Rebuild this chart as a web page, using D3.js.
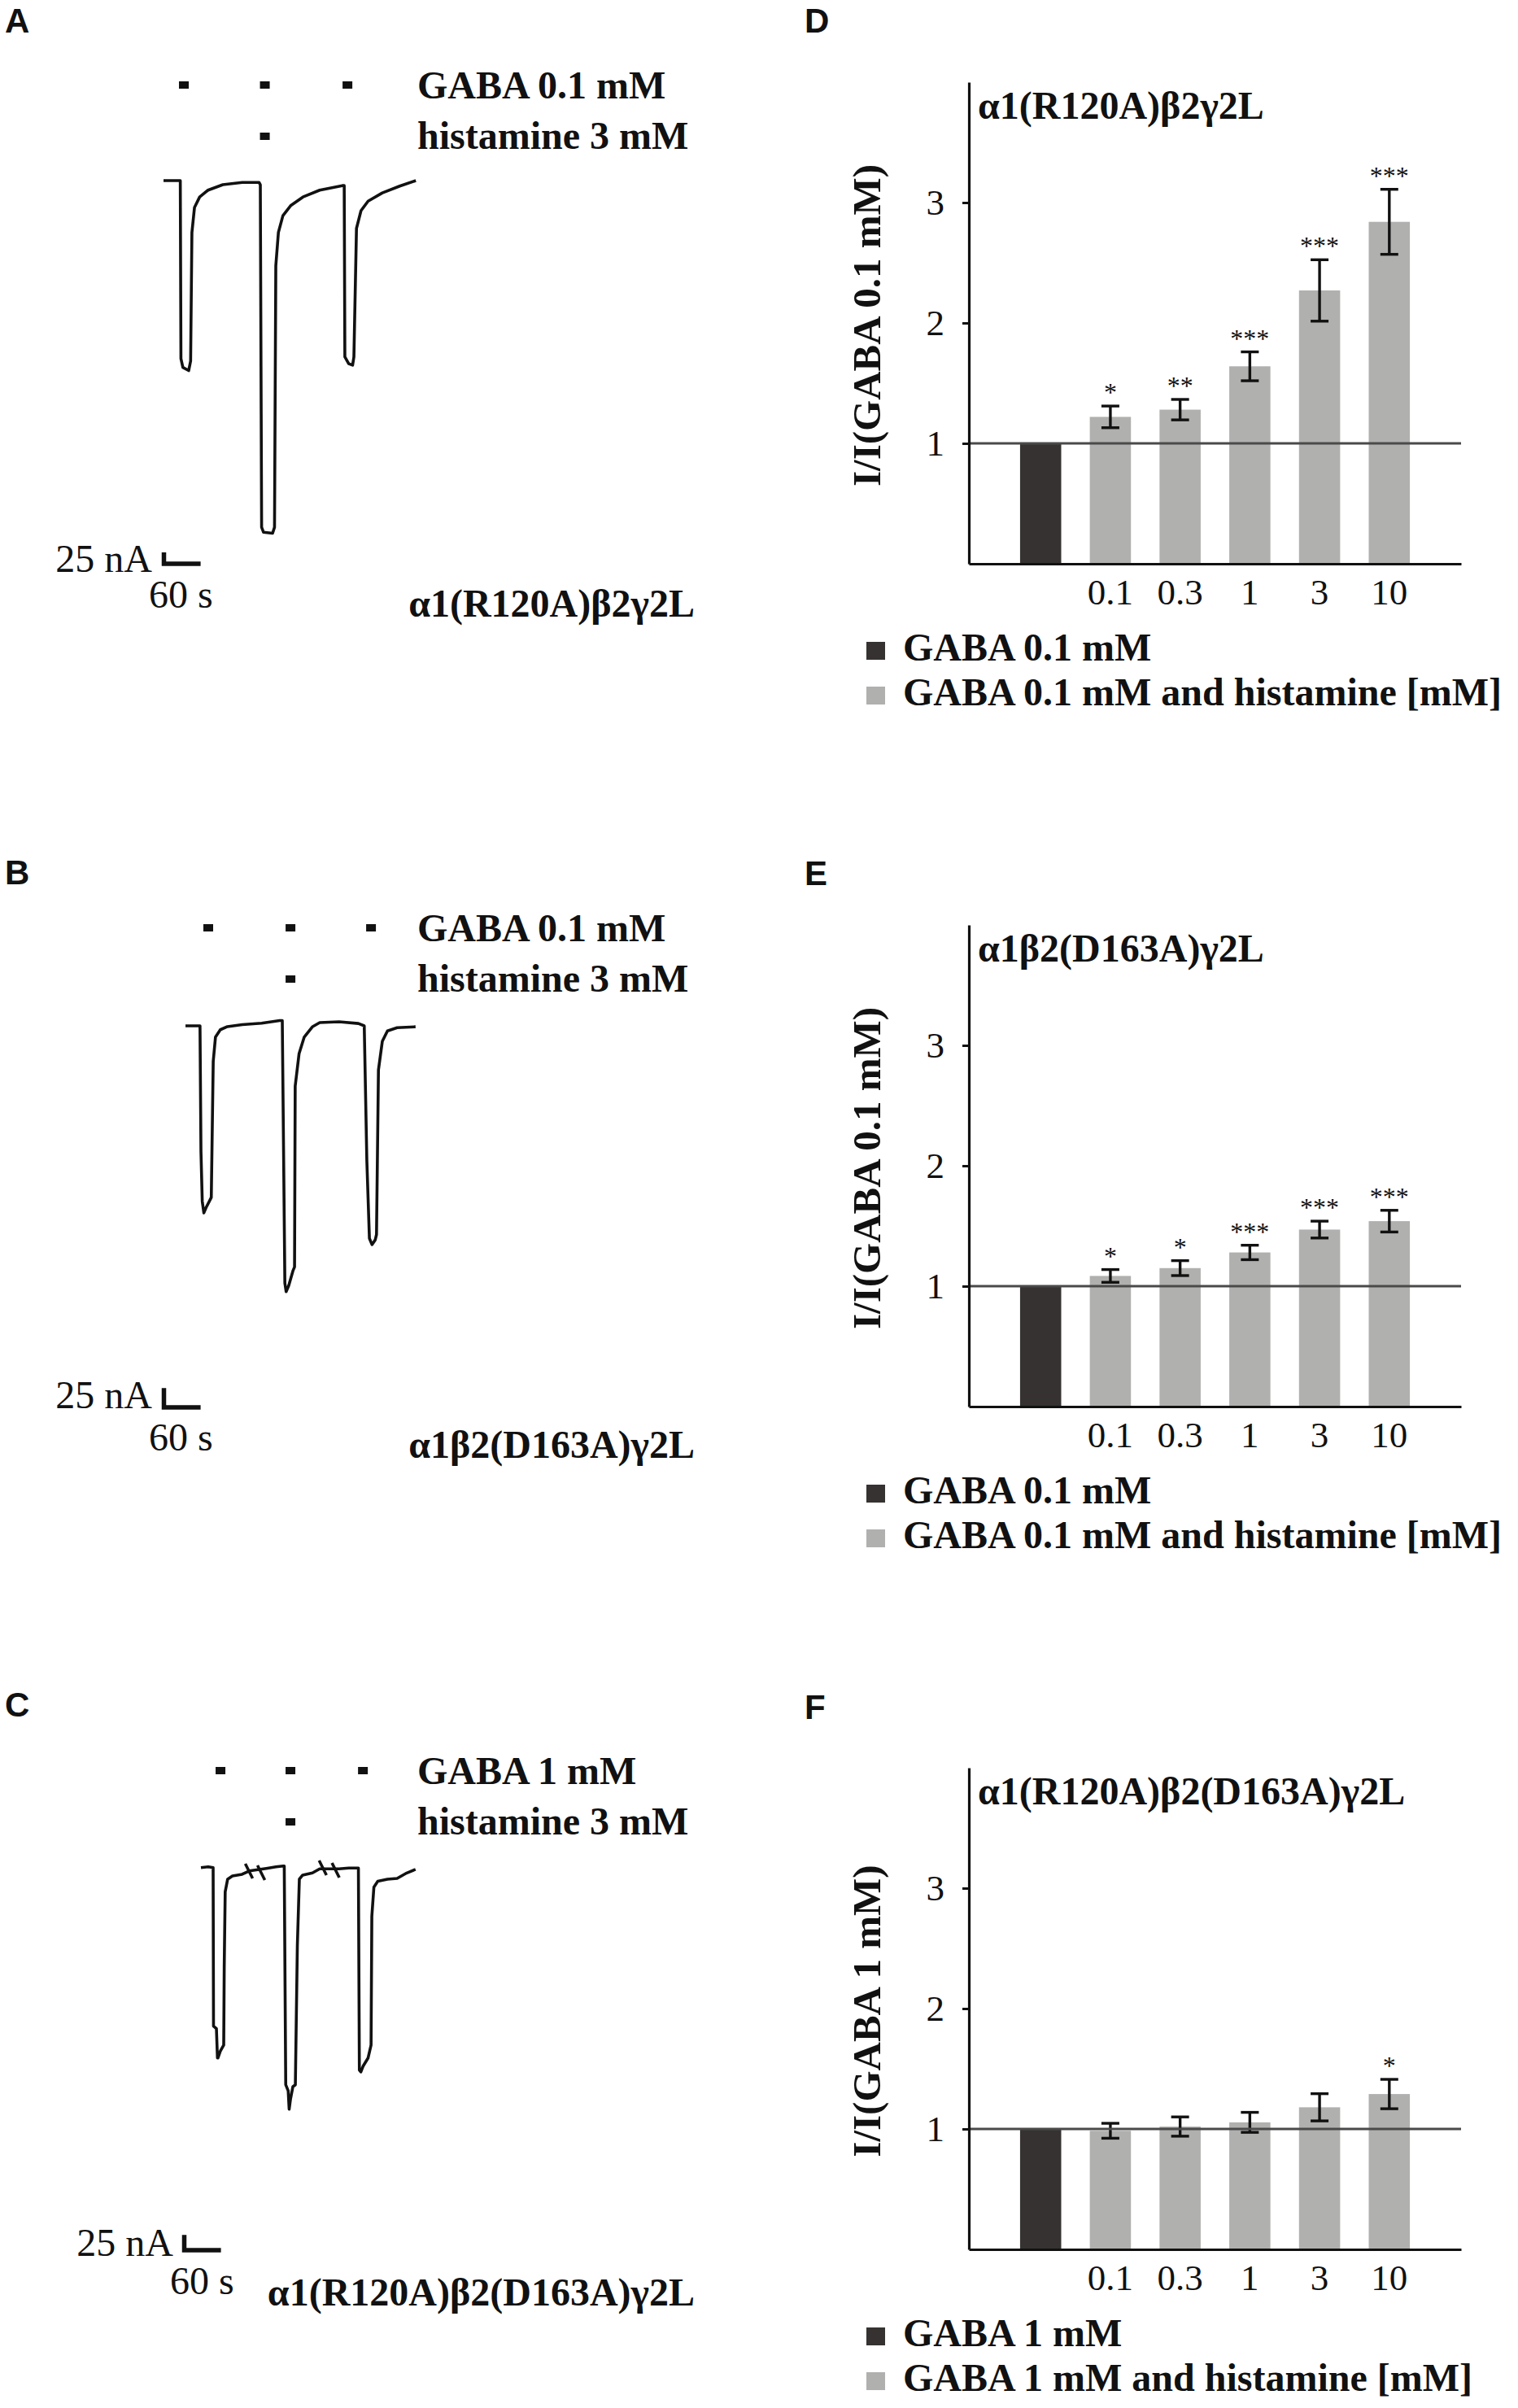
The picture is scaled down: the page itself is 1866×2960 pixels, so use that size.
<!DOCTYPE html>
<html lang="en">
<title>Histamine on mutant GABA-A receptors</title>
<meta charset="UTF-8">
<script src="https://d3js.org/d3.v7.min.js"></script>
<style>
body {margin:0; background:#fff}
svg text {font-family: "Liberation Serif", "Times New Roman", serif; fill:#111}
.letter {font-family: "Liberation Sans", Arial, sans-serif !important; font-weight:bold; font-size:42px}
.bold {font-weight:bold; font-size:48px}
.tick text {font-size:45px}
</style>
<body>
<svg id="fig" width="1866" height="2960"></svg>
<script>
// ---- data ----
const concLabels = ["0.1", "0.3", "1", "3", "10"];
const barCats = ["ctrl"].concat(concLabels);
const yTicks = [1, 2, 3];

const dMeans = [1, 1.22, 1.28, 1.64, 2.27, 2.84];
const dErrors = [0, 0.09, 0.085, 0.12, 0.255, 0.27];
const dStars = ["", "*", "**", "***", "***", "***"];

const eMeans = [1, 1.085, 1.15, 1.28, 1.47, 1.54];
const eErrors = [0, 0.053, 0.062, 0.06, 0.07, 0.09];
const eStars = ["", "*", "*", "***", "***", "***"];

const fMeans = [1, 0.985, 1.02, 1.055, 1.18, 1.29];
const fErrors = [0, 0.062, 0.08, 0.083, 0.113, 0.122];
const fStars = ["", "", "", "", "", "*"];

// traces: [time s, current nA]
const traceA = [[0,0],[26,0],[27,-391],[30,-410],[39,-417],[42,-396],[44,-114],[48,-59],[56,-36],[69,-21],[92,-9],[122,-4],[148,-4],
  [150,-9],[152,-761],[155,-772],[169,-774],[172,-761],[174,-187],[178,-114],[185,-77],[197,-55],[216,-36],[242,-21],[277,-11],
  [280,-11],[281,-387],[287,-402],[293,-405],[295,-387],[299,-105],[306,-66],[317,-45],[339,-27],[366,-12],[391,0]];
const traceB = [[0,0],[22.5,0],[24,-163],[26,-227],[28.5,-242],[32,-235],[37,-227],[40,-222],[43,-46],[46.5,-14.5],[54,-5],[65,-1],
  [88,1.5],[118,3.5],[146,6.8],[150,6.8],[154,-333],[156,-344],[160,-336],[166.5,-317],[169,-312],[170,-78],[176,-36],[184,-14.5],
  [197,-1],[208,4.2],[238,5.2],[268,3],[277,0],[281,-174],[285,-275],[289,-283],[294,-277],[296,-270],[299,-57],[305,-20],
  [313,-6.5],[328,-2.3],[356.5,-1.2]];
const traceC = [[0,0],[11.3,1.3],[18.9,0],[19.5,-260],[24,-264],[25.6,-312],[26.4,-312],[30,-301],[35.3,-291],[36.1,-162],
  [37.6,-39.5],[41.4,-19],[48.8,-13.7],[63.8,-11],[75,-5.5],[101.4,-1.3],[116.4,1.3],[127.6,2.7],[129.1,2.7],[131.4,-356],
  [135.2,-366],[136.7,-396],[138.7,-380],[142.5,-359],[146.3,-356],[149.4,-128],[152.5,-19],[157.6,-12.3],[172.8,-8.8],[184,-2],
  [214,-2],[229,-0.7],[244,-0.7],[245.5,-332],[247.8,-335],[251.5,-325],[259,-312],[263.6,-291],[264.8,-80],[268,-32],[274,-22.5],
  [289,-19],[304,-17.7],[319,-8.8],[332.5,-3]];
const breakTimesC = [74.4, 93.3, 188.8, 208.7];
const breakLevelsC = [-5.7, -8.4, -0.4, -4.4];

// drug application marks (centre time, s)
const gabaTimesA = [31.5, 157, 285], histTimesA = [157];
const gabaTimesB = [35.3, 162.7, 287.5], histTimesB = [162.7];
const gabaTimesC = [30.3, 138.7, 251], histTimesC = [138.7];

const receptors = ["α1(R120A)β2γ2L", "α1β2(D163A)γ2L", "α1(R120A)β2(D163A)γ2L"];
const gabaConc = ["GABA 0.1 mM", "GABA 0.1 mM", "GABA 1 mM"];

// ---- layout ----
const svg = d3.select("#fig");
const rowY = [0, 1036, 2072];
const letterBase = [40, 1087, 2110];
const secPx = 47.6 / 60;

const traces = [
  {data: traceA, x0: 201, base: 222, k: 0.56, barX: 199, barY: 693, nAx: 187, nAy: 703, sx: 183, sy: 747, ly: 758, gaba: gabaTimesA, hist: histTimesA},
  {data: traceB, x0: 228, base: 225, k: 0.95, barX: 199, barY: 694, nAx: 187, nAy: 695, sx: 183, sy: 747, ly: 756, gaba: gabaTimesB, hist: histTimesB},
  {data: traceC, x0: 247, base: 223.7, k: 0.75, barX: 224, barY: 694, nAx: 213, nAy: 701, sx: 209, sy: 748, ly: 762, gaba: gabaTimesC, hist: histTimesC}
];

traces.forEach(function(p, i) {
  const g = svg.append("g").attr("transform", "translate(0," + rowY[i] + ")");
  const x = d3.scaleLinear().domain([0, 60]).range([p.x0, p.x0 + 60 * secPx]);
  const y = d3.scaleLinear().domain([0, -25]).range([p.base, p.base + 25 * p.k]);

  g.append("text").attr("class", "letter").attr("x", 6).attr("y", letterBase[i] - rowY[i]).text("ABC"[i]);

  // application bars
  g.selectAll("rect.gaba").data(p.gaba).enter().append("rect")
    .attr("x", d => x(d) - 6).attr("y", 100).attr("width", 12).attr("height", 9).attr("fill", "#111");
  g.selectAll("rect.hist").data(p.hist).enter().append("rect")
    .attr("x", d => x(d) - 6).attr("y", 163).attr("width", 12).attr("height", 9).attr("fill", "#111");
  g.append("text").attr("class", "bold").attr("x", 513).attr("y", 121).text(gabaConc[i]);
  g.append("text").attr("class", "bold").attr("x", 513).attr("y", 183).text("histamine 3 mM");

  const line = d3.line().x(d => x(d[0])).y(d => y(d[1]));
  g.append("path").attr("d", line(p.data)).attr("fill", "none").attr("stroke", "#111")
    .attr("stroke-width", 3.6).attr("stroke-linejoin", "round");

  if (i === 2) {
    breakTimesC.forEach(function(t, j) {
      g.append("line").attr("x1", x(t) - 4.5).attr("y1", y(breakLevelsC[j]) - 9)
        .attr("x2", x(t) + 4.5).attr("y2", y(breakLevelsC[j]) + 9)
        .attr("stroke", "#111").attr("stroke-width", 3.6);
    });
  }

  // scale bar
  const w = x(60) - x(0), h = y(-25) - y(0);
  g.append("path")
    .attr("d", "M" + (p.barX + 2.5) + "," + (p.barY - h) + "V" + p.barY + "H" + (p.barX + w))
    .attr("fill", "none").attr("stroke", "#111").attr("stroke-width", 5.5);
  g.append("text").attr("x", p.nAx).attr("y", p.nAy).attr("text-anchor", "end")
    .style("font-size", "48px").text("25 nA");
  g.append("text").attr("x", p.sx).attr("y", p.sy).style("font-size", "48px").text("60 s");
  g.append("text").attr("class", "bold").attr("x", 854).attr("y", p.ly)
    .attr("text-anchor", "end").text(receptors[i]);
});

// ---- bar charts ----
const bars = [
  {means: dMeans, errs: dErrors, stars: dStars},
  {means: eMeans, errs: eErrors, stars: eStars},
  {means: fMeans, errs: fErrors, stars: fStars}
];
const yLabels = ["I/I(GABA 0.1 mM)", "I/I(GABA 0.1 mM)", "I/I(GABA 1 mM)"];
const barLetterBase = [40, 1088, 2113];

const x = d3.scaleBand().domain(barCats).range([1191, 1796]).paddingInner(0.41).paddingOuter(0.734);
const y = d3.scaleLinear().domain([0, 4]).range([693, 101]);

bars.forEach(function(p, i) {
  const g = svg.append("g").attr("transform", "translate(0," + rowY[i] + ")");
  g.append("text").attr("class", "letter").attr("x", 989).attr("y", barLetterBase[i] - rowY[i]).text("DEF"[i]);

  const rows = barCats.map((c, j) => ({cat: c, v: p.means[j], e: p.errs[j], s: p.stars[j]}));

  g.selectAll("rect.bar").data(rows).enter().append("rect")
    .attr("x", d => x(d.cat)).attr("width", x.bandwidth())
    .attr("y", d => y(d.v)).attr("height", d => y(0) - y(d.v))
    .attr("fill", (d, j) => j === 0 ? "#363231" : "#b0b1ae");

  const eb = rows.filter(d => d.e > 0);
  const cx = d => x(d.cat) + x.bandwidth() / 2;
  g.selectAll("line.err").data(eb).enter().append("line")
    .attr("x1", cx).attr("x2", cx).attr("y1", d => y(d.v - d.e)).attr("y2", d => y(d.v + d.e))
    .attr("stroke", "#111").attr("stroke-width", 3.4);
  [1, -1].forEach(function(sg) {
    g.selectAll(null).data(eb).enter().append("line")
      .attr("x1", d => cx(d) - 11).attr("x2", d => cx(d) + 11)
      .attr("y1", d => y(d.v + sg * d.e)).attr("y2", d => y(d.v + sg * d.e))
      .attr("stroke", "#111").attr("stroke-width", 3.4);
  });
  g.selectAll("text.star").data(eb).enter().append("text")
    .attr("x", cx).attr("y", d => y(d.v + d.e) - 6).attr("text-anchor", "middle")
    .style("font-size", "32px").text(d => d.s);

  // reference line at 1
  g.append("line").attr("x1", 1191).attr("x2", 1796).attr("y1", y(1)).attr("y2", y(1))
    .attr("stroke", "#4a4a4a").attr("stroke-width", 2.8);

  const ya = g.append("g").attr("transform", "translate(1191,0)")
    .call(d3.axisLeft(y).tickValues(yTicks).tickFormat(d3.format("d")).tickSizeInner(8).tickSizeOuter(0).tickPadding(22));
  const xa = g.append("g").attr("transform", "translate(0," + y(0) + ")")
    .call(d3.axisBottom(x).tickFormat(d => d === "ctrl" ? "" : d).tickSize(0).tickPadding(18));
  [ya, xa].forEach(function(a) {
    a.select(".domain").attr("stroke", "#111").attr("stroke-width", 3.2);
    a.selectAll(".tick line").attr("stroke", "#111").attr("stroke-width", 3);
    a.selectAll(".tick text").attr("fill", "#111").attr("font-family", null);
  });

  g.append("text").attr("class", "bold").attr("x", 1202).attr("y", 146).text(receptors[i]);
  g.append("text").attr("class", "bold").style("font-size", "49px").attr("text-anchor", "middle")
    .attr("transform", "translate(1082,400) rotate(-90)").text(yLabels[i]);

  // legend
  const leg = [gabaConc[i], gabaConc[i] + " and histamine [mM]"];
  const legCol = ["#363231", "#b0b1ae"];
  leg.forEach(function(t, j) {
    const by = 812 + j * 55;
    g.append("rect").attr("x", 1065).attr("y", by - 23).attr("width", 23).attr("height", 22).attr("fill", legCol[j]);
    g.append("text").attr("class", "bold").attr("x", 1110).attr("y", by).text(t);
  });
});
</script>
</body>
</html>
